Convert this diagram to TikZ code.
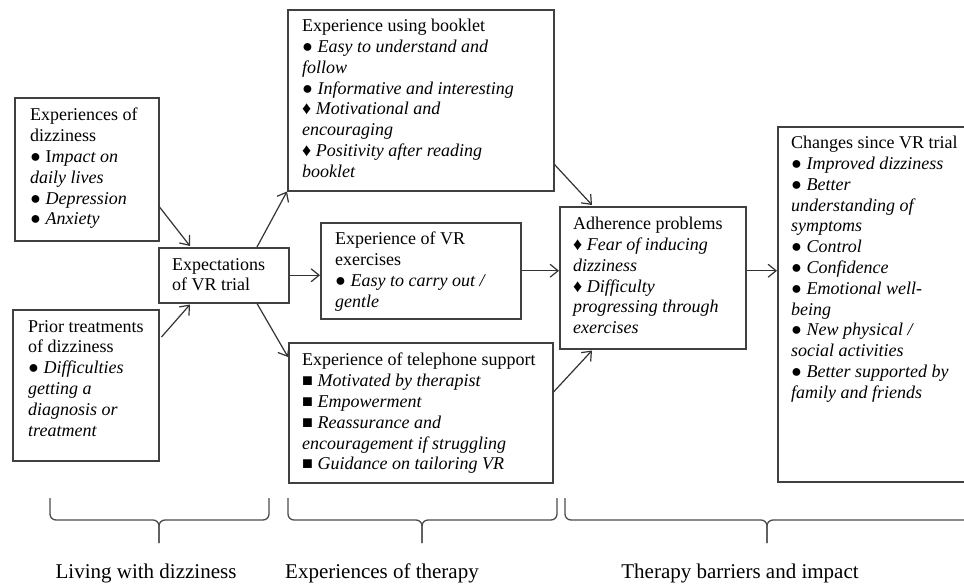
\documentclass[tikz,border=0pt]{standalone}
\usepackage{fontspec}
\setmainfont{Liberation Serif}
\usetikzlibrary{arrows.meta}
\tikzset{
  box/.style={draw=black!75, line width=1.5pt, inner sep=0pt, anchor=north west},
  boxtext/.style={inner sep=0pt, anchor=north west, align=left, font=\fontsize{18}{20.8}\selectfont},
  arr/.style={draw=black!80, line width=1.2pt, -{Straight Barb[length=8pt,width=13pt,line width=1.2pt]}},
  bracket/.style={draw=black!70, line width=1.3pt, rounded corners=6pt},
  theme/.style={inner sep=0pt, font=\fontsize{21}{24}\selectfont}
}
\newcommand{\bdot}{● }
\newcommand{\bdia}{♦ }
\newcommand{\bsq}{■ }
\begin{document}
\begin{tikzpicture}[x=1pt,y=-1pt]
\useasboundingbox (0,0) rectangle (964,587);
\clip (0,0) rectangle (964,587);
% boxes
\node[box, minimum width=144pt, minimum height=143pt] (dizzy) at (14,97) {};
\node[box, minimum width=146pt, minimum height=151pt] (prior) at (12,309) {};
\node[box, minimum width=130pt, minimum height=55pt] (expect) at (158,247) {};
\node[box, minimum width=266pt, minimum height=181pt] (booklet) at (287,9) {};
\node[box, minimum width=200pt, minimum height=96pt] (vrex) at (320,222) {};
\node[box, minimum width=264pt, minimum height=140pt] (phone) at (288,342) {};
\node[box, minimum width=186pt, minimum height=142pt] (adhere) at (559,206) {};
\node[box, minimum width=210pt, minimum height=355pt] (changes) at (777,126) {};
% box texts
\node[boxtext] (dizzytext) at ([xshift=16pt,yshift=-11pt]dizzy.north west)
  {Experiences of\\dizziness\\\bdot I\textit{mpact on}\\\textit{daily lives}\\\bdot\textit{Depression}\\\bdot\textit{Anxiety}};
\node[boxtext] (priortext) at ([xshift=16pt,yshift=-11pt]prior.north west)
  {Prior treatments\\of dizziness\\\bdot\textit{Difficulties}\\\textit{getting a}\\\textit{diagnosis or}\\\textit{treatment}};
\node[boxtext] (expecttext) at ([xshift=14pt,yshift=-11pt]expect.north west)
  {Expectations\\of VR trial};
\node[boxtext] (booklettext) at ([xshift=15pt,yshift=-10pt]booklet.north west)
  {Experience using booklet\\\bdot\textit{Easy to understand and}\\\textit{follow}\\\bdot\textit{Informative and interesting}\\\bdia\textit{Motivational and}\\\textit{encouraging}\\\bdia\textit{Positivity after reading}\\\textit{booklet}};
\node[boxtext] (vrextext) at ([xshift=15pt,yshift=-10pt]vrex.north west)
  {Experience of VR\\exercises\\\bdot\textit{Easy to carry out /}\\\textit{gentle}};
\node[boxtext] (phonetext) at ([xshift=14pt,yshift=-11pt]phone.north west)
  {Experience of telephone support\\\bsq\textit{Motivated by therapist}\\\bsq\textit{Empowerment}\\\bsq\textit{Reassurance and}\\\textit{encouragement if struggling}\\\bsq\textit{Guidance on tailoring VR}};
\node[boxtext] (adheretext) at ([xshift=14pt,yshift=-11pt]adhere.north west)
  {Adherence problems\\\bdia\textit{Fear of inducing}\\\textit{dizziness}\\\bdia\textit{Difficulty}\\\textit{progressing through}\\\textit{exercises}};
\node[boxtext] (changestext) at ([xshift=14pt,yshift=-10pt]changes.north west)
  {Changes since VR trial\\\bdot\textit{Improved dizziness}\\\bdot\textit{Better}\\\textit{understanding of}\\\textit{symptoms}\\\bdot\textit{Control}\\\bdot\textit{Confidence}\\\bdot\textit{Emotional well-}\\\textit{being}\\\bdot\textit{New physical /}\\\textit{social activities}\\\bdot\textit{Better supported by}\\\textit{family and friends}};
% arrows
\draw[arr] ([yshift=-110pt]dizzy.north east) -- ([xshift=32pt,yshift=1pt]expect.north west);
\draw[arr] ([xshift=2pt,yshift=-28pt]prior.north east) -- ([xshift=32pt,yshift=-1pt]expect.south west);
\draw[arr] ([xshift=99pt]expect.north west) -- (booklet.south west);
\draw[arr] (expect.east) -- (expect.east -| vrex.west);
\draw[arr] ([xshift=99pt]expect.south west) -- ([yshift=-15pt]phone.north west);
\draw[arr] ([yshift=27pt]booklet.south east) -- ([xshift=33pt,yshift=1pt]adhere.north west);
\draw[arr] (vrex.east) -- (vrex.east -| adhere.west);
\draw[arr] ([yshift=-50pt]phone.north east) -- ([xshift=33pt,yshift=-1pt]adhere.south west);
\draw[arr] ([yshift=7pt]adhere.east) -- ([yshift=7pt]adhere.east -| changes.west);
% braces
\foreach \l/\m/\r in {50/159/269, 288/422/557, 565/767/990} {
  \draw[bracket] (\l,498) |- (\m,520) -- (\m,543);
  \draw[bracket] (\r,498) |- (\m,520) -- (\m,543);
}
\node[theme] (living) at (146,573) {Living with dizziness};
\node[theme] (therapy) at (382,573) {Experiences of therapy};
\node[theme] (barriers) at (740,573) {Therapy barriers and impact};
\end{tikzpicture}
\end{document}
